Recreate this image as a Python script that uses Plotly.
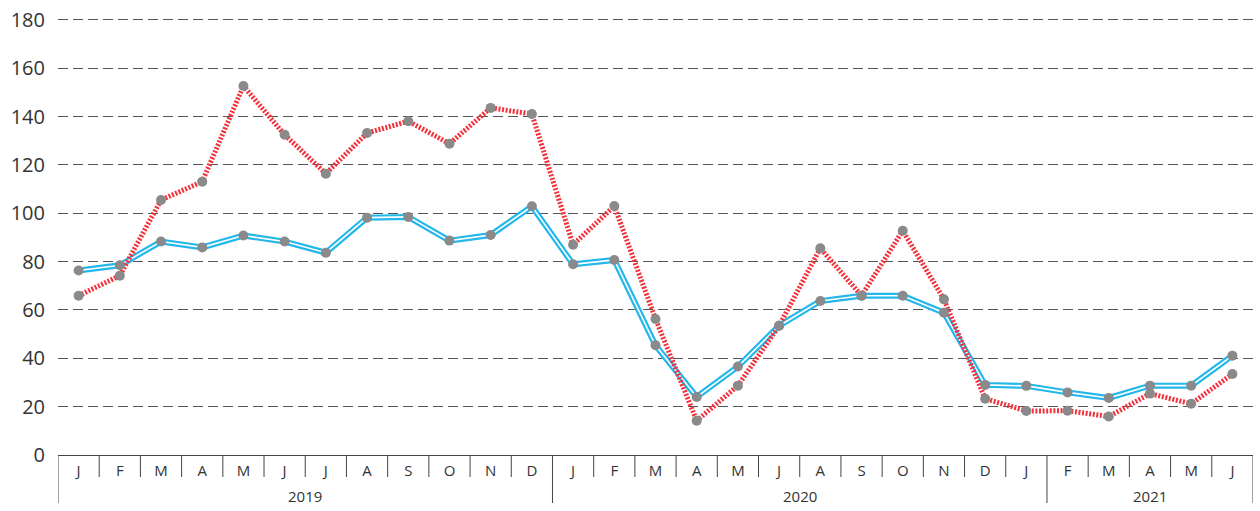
import plotly.graph_objects as go

years = ["2019"] * 12 + ["2020"] * 12 + ["2021"] * 5
months = ["J", "F", "M", "A", "M", "J", "J", "A", "S", "O", "N", "D",
          "J", "F", "M", "A", "M", "J", "A", "S", "O", "N", "D", "J",
          "F", "M", "A", "M", "J"]
blue_values = [76.3, 78.5, 88.3, 85.9, 90.8, 88.3, 83.7, 98.2, 98.5, 88.7, 91.0, 102.9,
               78.9, 80.7, 45.4, 24.0, 36.6, 53.5, 63.7, 65.9, 65.9, 58.9, 29.0, 28.6,
               25.9, 23.6, 28.7, 28.7, 41.1]
red_values = [65.9, 74.2, 105.5, 113.1, 152.7, 132.5, 116.4, 133.2, 138.1, 128.8, 143.6, 141.1,
              87.0, 103.0, 56.3, 14.2, 28.7, 53.5, 85.5, 65.9, 92.8, 64.4, 23.3, 18.2,
              18.3, 15.9, 25.4, 21.2, 33.5]
y_ticks = [0, 20, 40, 60, 80, 100, 120, 140, 160, 180]

x = list(range(len(months)))
BLUE = "#23b7ea"
RED = "#f2323c"
GREY = "#8a8a8a"
FONT = "Open Sans"
PLOT_H = 437  # px of plotting area

fig = go.Figure()
fig.add_trace(go.Scatter(x=x, y=blue_values, mode="lines",
                         line=dict(color=BLUE, width=6), hoverinfo="skip", showlegend=False))
fig.add_trace(go.Scatter(x=x, y=blue_values, mode="lines",
                         line=dict(color="white", width=1.6), hoverinfo="skip", showlegend=False))
fig.add_trace(go.Scatter(x=x, y=red_values, mode="lines",
                         line=dict(color=RED, width=5, dash="2px,1.6px"), hoverinfo="skip",
                         showlegend=False))
fig.add_trace(go.Scatter(x=x, y=blue_values, mode="markers",
                         marker=dict(color=GREY, size=10), showlegend=False))
fig.add_trace(go.Scatter(x=x, y=red_values, mode="markers",
                         marker=dict(color=GREY, size=10), showlegend=False))

shapes = []
for i in range(len(months) + 1):
    b = i - 0.5
    is_year = i == 0 or i == len(months) or years[i] != years[i - 1]
    shapes.append(dict(type="line", xref="x", yref="paper", x0=b, x1=b,
                       y0=0, y1=-(48 if is_year else 22) / PLOT_H,
                       line=dict(color="#444", width=1)))

annotations = []
seen = []
for yr in years:
    if yr not in seen:
        seen.append(yr)
for yr in seen:
    idx = [i for i, v in enumerate(years) if v == yr]
    annotations.append(dict(x=(idx[0] + idx[-1]) / 2, y=-41 / PLOT_H, xref="x", yref="paper",
                            text=yr, showarrow=False, yanchor="middle",
                            font=dict(family=FONT, size=15, color="#333")))

fig.update_layout(
    width=1260, height=511,
    margin=dict(l=58, r=7, t=18, b=56),
    plot_bgcolor="white", paper_bgcolor="white",
    shapes=shapes, annotations=annotations,
    font=dict(family=FONT, color="#333"),
    xaxis=dict(range=[-0.5, len(months) - 0.5], tickmode="array", tickvals=x, ticktext=months,
               showgrid=False, zeroline=False, showline=True, linecolor="#444", linewidth=1,
               ticks="", automargin=False, ticklabelstandoff=2,
               tickfont=dict(family=FONT, size=15, color="#333")),
    yaxis=dict(range=[0, 180.8], tickmode="array", tickvals=y_ticks, showgrid=True,
               gridcolor="#555", gridwidth=1.2, griddash="10px,5px", zeroline=False,
               ticks="", ticklabelstandoff=12, automargin=False,
               tickfont=dict(family=FONT, size=20, color="#333")),
)

fig.write_html("out.html", config={"displayModeBar": False},
               post_script="document.body.style.margin='0';document.body.style.overflow='hidden';")
